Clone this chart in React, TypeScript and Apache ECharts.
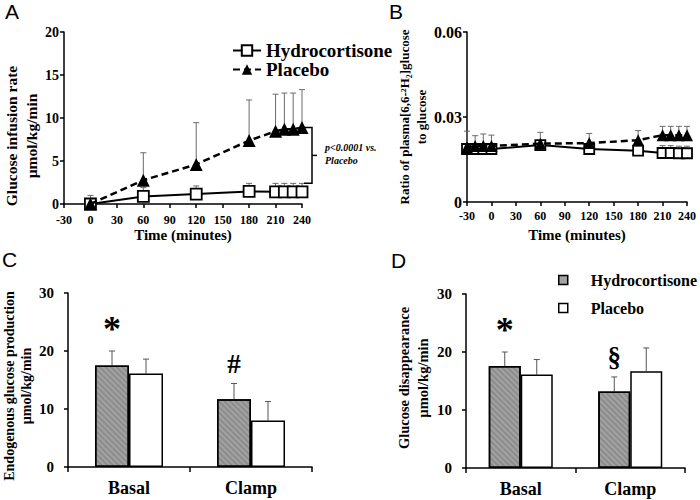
import React, { useEffect, useRef } from "react";
import * as echarts from "echarts";

// ---------- Data ----------
const timesA = [0, 60, 120, 180, 210, 220, 230, 240];
const hydroA = [0, 0.88, 1.15, 1.46, 1.42, 1.42, 1.42, 1.42];
const hydroAUpper = [0.6, 1.9, 2.1, 2.4, 2.4, 2.4, 2.4, 2.4];
const placeboA = [0, 2.77, 4.6, 7.38, 8.46, 8.7, 8.7, 8.9];
const placeboAUpper = [1.0, 5.96, 9.46, 12.1, 12.77, 12.9, 12.9, 13.3];

const timesB = [-30, -20, -10, 0, 60, 120, 180, 210, 220, 230, 240];
const hydroB = [0.0187, 0.0187, 0.0187, 0.0187, 0.0201, 0.0187, 0.0181, 0.0173, 0.0173, 0.0172, 0.0172];
const hydroBUpper = [0.0197, 0.0197, 0.0197, 0.0197, 0.0211, 0.0197, 0.0191, 0.0199, 0.0199, 0.0197, 0.0197];
const placeboB = [0.0193, 0.0198, 0.0198, 0.0198, 0.0206, 0.0208, 0.0218, 0.0236, 0.0236, 0.0236, 0.0236];
const placeboBUpper = [0.025, 0.0234, 0.024, 0.0236, 0.0246, 0.0242, 0.0252, 0.0267, 0.0267, 0.0267, 0.0267];

const barCategories = ["Basal", "Clamp"];
const egpHydro = [17.5, 11.7];
const egpHydroUpper = [20.0, 14.4];
const egpPlacebo = [16.1, 8.0];
const egpPlaceboUpper = [18.6, 11.3];
const rdHydro = [17.6, 13.2];
const rdHydroUpper = [20.0, 15.7];
const rdPlacebo = [16.1, 16.7];
const rdPlaceboUpper = [18.7, 20.7];
const egpMarks = ["*", "#"];
const rdMarks = ["*", "§"];

const seriesNames = ["Hydrocortisone", "Placebo"];
const pValueText = "p<0.0001 vs.\nPlacebo";
const panelLetters = ["A", "B", "C", "D"];

// ---------- Styles ----------
const SERIF = "'Liberation Serif', 'Times New Roman', serif";
const SANS = "'Liberation Sans', Arial, sans-serif";
const HATCH = "#a2a2a2";
const ERR = "#6a6a6a";

const bold = (size: number, extra: any = {}) => ({
  fontFamily: SERIF,
  fontWeight: "bold",
  fontSize: size,
  color: "#000",
  ...extra,
});
const axisLine = { show: true, onZero: false, lineStyle: { color: "#000", width: 1.5 } };
const axisTick = { show: true, length: 4, lineStyle: { color: "#000", width: 1.5 } };

const pairs = (xs: number[], a: number[], b?: number[]) =>
  xs.map((x, i) => (b ? [x, a[i], b[i]] : [x, a[i]]));

function errSeries(grid: number, data: number[][], offset = 0, color = ERR) {
  return {
    type: "custom",
    xAxisIndex: grid,
    yAxisIndex: grid,
    z: 1,
    silent: true,
    data,
    encode: { x: 0, y: [1, 2] },
    renderItem: (_p: any, api: any) => {
      const a = api.coord([api.value(0), api.value(1)]);
      const b = api.coord([api.value(0), api.value(2)]);
      const x = a[0] + offset;
      return {
        type: "group",
        children: [
          { type: "line", shape: { x1: x, y1: a[1], x2: x, y2: b[1] }, style: { stroke: color, lineWidth: 1 } },
          { type: "line", shape: { x1: x - 3, y1: b[1], x2: x + 3, y2: b[1] }, style: { stroke: color, lineWidth: 1 } },
        ],
      };
    },
  };
}

function markSeries(grid: number, data: number[][], marks: string[], offset: number) {
  return {
    type: "custom",
    xAxisIndex: grid,
    yAxisIndex: grid,
    z: 5,
    silent: true,
    data,
    encode: { x: 0, y: 1 },
    renderItem: (p: any, api: any) => {
      const b = api.coord([api.value(0), api.value(1)]);
      const t = marks[p.dataIndex];
      const size = t === "*" ? 36 : 27;
      return {
        type: "text",
        x: b[0] + offset,
        y: b[1] - (t === "*" ? 4 : 6),
        style: { text: t, fill: "#000", fontFamily: SERIF, fontWeight: "bold", fontSize: size, align: "center", verticalAlign: "bottom" },
      };
    },
  };
}

const bracketSeries = {
  type: "custom",
  xAxisIndex: 0,
  yAxisIndex: 0,
  z: 5,
  silent: true,
  data: [[timesA[timesA.length - 1], placeboA[placeboA.length - 1], hydroAUpper[hydroAUpper.length - 1]]],
  encode: { x: 0, y: [1, 2] },
  renderItem: (_p: any, api: any) => {
    const top = api.coord([api.value(0), api.value(1)]);
    const bot = api.coord([api.value(0), api.value(2)]);
    const x0 = top[0] + 2;
    const x1 = top[0] + 10;
    const mid = (top[1] + bot[1]) / 2;
    return {
      type: "group",
      children: [
        {
          type: "polyline",
          shape: { points: [[x0, top[1]], [x1, top[1]], [x1, bot[1]], [x0, bot[1]]] },
          style: { stroke: "#000", lineWidth: 1.5, fill: "none" },
        },
        { type: "line", shape: { x1: x1, y1: mid, x2: x1 + 5, y2: mid }, style: { stroke: "#000", lineWidth: 1.5 } },
        {
          type: "text",
          x: x1 + 13,
          y: mid - 1,
          style: {
            text: pValueText,
            fill: "#000",
            fontFamily: SERIF,
            fontWeight: "bold",
            fontStyle: "italic",
            fontSize: 10,
            lineHeight: 13,
            align: "left",
            verticalAlign: "middle",
          },
        },
      ],
    };
  },
};

const hydroLine = {
  symbol: "rect",
  symbolSize: 11,
  itemStyle: { color: "#fff", borderColor: "#000", borderWidth: 1.8 },
  lineStyle: { color: "#000", width: 2 },
};
const placeboLine = {
  symbol: "triangle",
  symbolSize: 13,
  itemStyle: { color: "#000", borderColor: "#000", borderWidth: 0 },
  lineStyle: { color: "#000", width: 2.5, type: [7, 4] },
};

const BAR_C = 34;
const BAR_D = 32;

const decal = {
  symbol: "rect",
  symbolSize: 1,
  dashArrayX: [1, 0],
  dashArrayY: [2, 2],
  rotation: Math.PI / 4,
  color: "rgba(40,40,40,0.18)",
};
const hydroBarStyle = { color: HATCH, borderColor: "#000", borderWidth: 1.5, decal };
const placeboBarStyle = { color: "#fff", borderColor: "#000", borderWidth: 1.5 };

function timeXAxis(grid: number, labelSize: number, margin: number, nameGap: number) {
  return {
    type: "value",
    gridIndex: grid,
    min: -30,
    max: 240,
    interval: 30,
    axisLine,
    axisTick,
    splitLine: { show: false },
    axisLabel: { ...bold(labelSize), margin },
    name: "Time (minutes)",
    nameLocation: "middle",
    nameGap,
    nameTextStyle: bold(15),
  };
}

function catXAxis(grid: number) {
  return {
    type: "category",
    gridIndex: grid,
    data: barCategories,
    axisLine,
    axisTick: { ...axisTick, length: 5 },
    axisLabel: { ...bold(18), margin: 12 },
  };
}

function valYAxis(grid: number, max: number, interval: number, labelSize: number, margin: number, name: string, nameGap: number, lineHeight: number, nameSize: number, padding: number[]) {
  return {
    type: "value",
    gridIndex: grid,
    min: 0,
    max,
    interval,
    axisLine,
    axisTick,
    splitLine: { show: false },
    axisLabel: { ...bold(labelSize), margin },
    name,
    nameLocation: "middle",
    nameRotate: 90,
    nameGap,
    nameTextStyle: bold(nameSize, { lineHeight, padding }),
  };
}

function buildOption() {
  const letterStyle = { fontFamily: SANS, fontWeight: "normal", fontSize: 21, color: "#000" };
  return {
    animation: false,
    backgroundColor: "#fff",
    title: [
      { text: panelLetters[0], left: 5, top: 1, padding: 0, textStyle: letterStyle },
      { text: panelLetters[1], left: 389, top: 1, padding: 0, textStyle: letterStyle },
      { text: panelLetters[2], left: 2, top: 249, padding: 0, textStyle: letterStyle },
      { text: panelLetters[3], left: 391, top: 250, padding: 0, textStyle: letterStyle },
    ],
    legend: [
      {
        data: seriesNames,
        orient: "vertical",
        left: 232,
        top: 41,
        itemWidth: 28,
        itemHeight: 13,
        itemGap: 0,
        padding: 0,
        selectedMode: false,
        textStyle: bold(19),
      },
      {
        data: [
          { name: seriesNames[0], icon: "rect", itemStyle: { color: HATCH, borderColor: "#000", borderWidth: 1.5 } },
          { name: seriesNames[1], icon: "rect", itemStyle: { color: "#fff", borderColor: "#000", borderWidth: 1.5 } },
        ],
        orient: "vertical",
        left: 558,
        top: 272,
        itemWidth: 9,
        itemHeight: 9,
        itemGap: 12,
        padding: 0,
        selectedMode: false,
        textStyle: bold(16, { padding: [0, 0, 0, 18] }),
      },
    ],
    grid: [
      { left: 64, top: 32, width: 238, height: 172 },
      { left: 467, top: 32, width: 220, height: 170 },
      { left: 68, top: 293, width: 244, height: 174 },
      { left: 466, top: 294, width: 219, height: 174 },
    ],
    xAxis: [timeXAxis(0, 12, 10, 23), timeXAxis(1, 12, 8, 25), catXAxis(2), catXAxis(3)],
    yAxis: [
      valYAxis(0, 20, 5, 14, 5, "Glucose infusion rate\nµmol/kg/min", 21, 20, 15.5, [0, 36, 0, 0]),
      valYAxis(1, 0.06, 0.03, 16, 5, "Ratio of plasma[6,6-²H₂]glucose\nto glucose", 36, 17, 13, [0, 0, 0, 0]),
      valYAxis(2, 30, 10, 15, 14, "Endogenous glucose production\nµmol/kg/min", 32, 17, 14, [0, 12, 0, 0]),
      valYAxis(3, 30, 10, 15, 14, "Glucose disappearance\nµmol/kg/min", 34, 19, 14.5, [0, 0, 0, 6]),
    ],
    series: [
      // Panel A
      errSeries(0, pairs(timesA, hydroA, hydroAUpper)),
      errSeries(0, pairs(timesA, placeboA, placeboAUpper)),
      { name: seriesNames[0], type: "line", xAxisIndex: 0, yAxisIndex: 0, z: 3, data: pairs(timesA, hydroA), ...hydroLine },
      { name: seriesNames[1], type: "line", xAxisIndex: 0, yAxisIndex: 0, z: 4, data: pairs(timesA, placeboA), ...placeboLine },
      bracketSeries,
      // Panel B
      errSeries(1, pairs(timesB, hydroB, hydroBUpper)),
      errSeries(1, pairs(timesB, placeboB, placeboBUpper)),
      { name: seriesNames[0], type: "line", xAxisIndex: 1, yAxisIndex: 1, z: 3, data: pairs(timesB, hydroB), ...hydroLine, symbolSize: 10 },
      { name: seriesNames[1], type: "line", xAxisIndex: 1, yAxisIndex: 1, z: 4, data: pairs(timesB, placeboB), ...placeboLine, symbolSize: 12 },
      // Panel C
      { name: seriesNames[0], type: "bar", xAxisIndex: 2, yAxisIndex: 2, barWidth: BAR_C, barGap: "0%", data: egpHydro, itemStyle: hydroBarStyle },
      { name: seriesNames[1], type: "bar", xAxisIndex: 2, yAxisIndex: 2, barWidth: BAR_C, barGap: "0%", data: egpPlacebo, itemStyle: placeboBarStyle },
      errSeries(2, barCategories.map((_, i) => [i, egpHydro[i], egpHydroUpper[i]]), -BAR_C / 2, "#555"),
      errSeries(2, barCategories.map((_, i) => [i, egpPlacebo[i], egpPlaceboUpper[i]]), BAR_C / 2, "#555"),
      markSeries(2, barCategories.map((_, i) => [i, egpHydroUpper[i]]), egpMarks, -BAR_C / 2),
      // Panel D
      { name: seriesNames[0], type: "bar", xAxisIndex: 3, yAxisIndex: 3, barWidth: BAR_D, barGap: "0%", data: rdHydro, itemStyle: hydroBarStyle },
      { name: seriesNames[1], type: "bar", xAxisIndex: 3, yAxisIndex: 3, barWidth: BAR_D, barGap: "0%", data: rdPlacebo, itemStyle: placeboBarStyle },
      errSeries(3, barCategories.map((_, i) => [i, rdHydro[i], rdHydroUpper[i]]), -BAR_D / 2, "#555"),
      errSeries(3, barCategories.map((_, i) => [i, rdPlacebo[i], rdPlaceboUpper[i]]), BAR_D / 2, "#555"),
      markSeries(3, barCategories.map((_, i) => [i, rdHydroUpper[i]]), rdMarks, -BAR_D / 2),
    ],
  };
}

export default function App() {
  const ref = useRef<HTMLDivElement>(null);
  useEffect(() => {
    if (!ref.current) return;
    const chart = echarts.init(ref.current, undefined, { renderer: "svg" });
    chart.setOption(buildOption() as any);
    return () => chart.dispose();
  }, []);
  return (
    <div
      ref={ref}
      style={{ position: "fixed", left: 0, top: 0, width: 700, height: 500, background: "#fff" }}
    />
  );
}
